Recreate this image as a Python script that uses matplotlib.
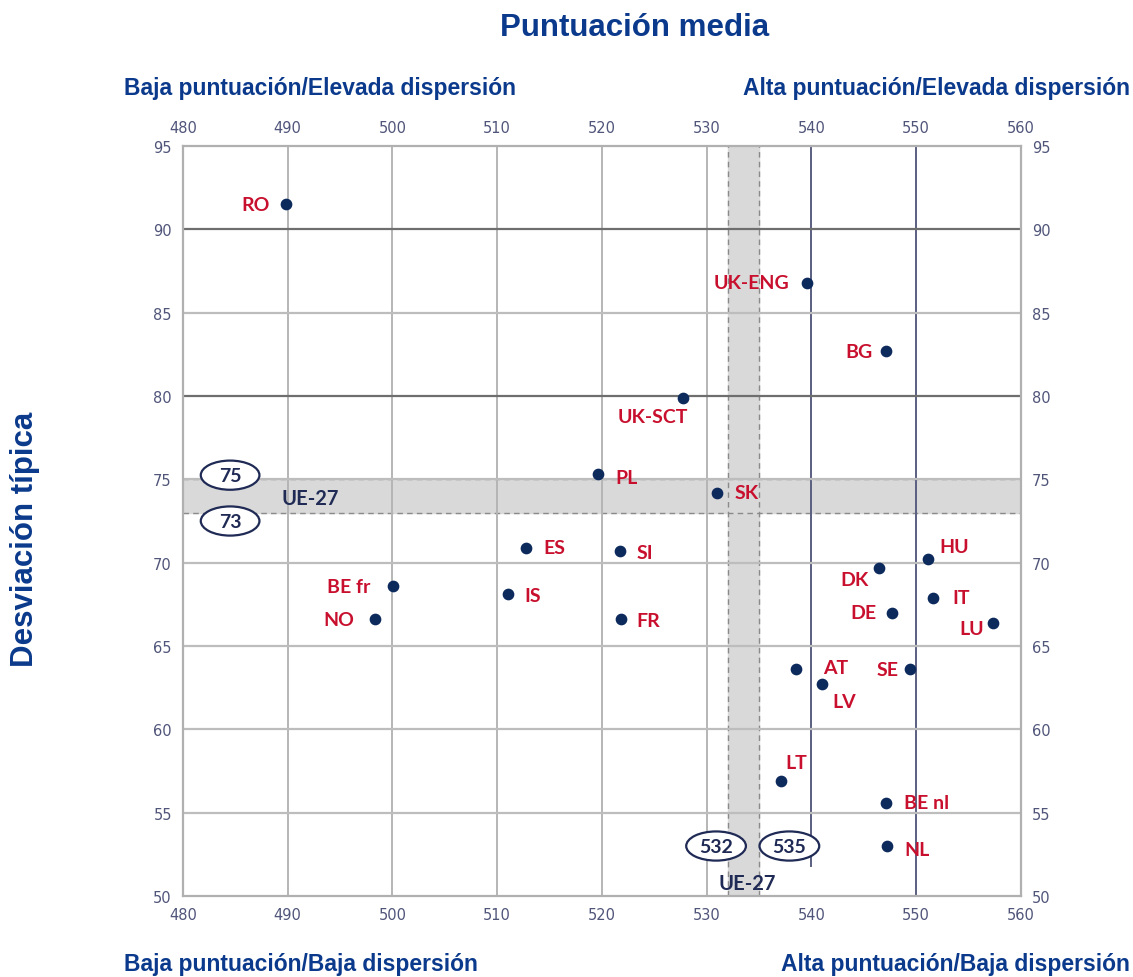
import matplotlib
matplotlib.use("Agg")
import matplotlib.pyplot as plt
from matplotlib.patches import Ellipse

# data
countries = ["RO", "UK-ENG", "BG", "UK-SCT", "PL", "SK", "ES", "SI", "BE fr", "IS",
             "NO", "FR", "HU", "DK", "IT", "DE", "LU", "AT", "SE", "LV", "LT", "BE nl", "NL"]
mean_score = [489.8, 539.6, 547.1, 527.7, 519.6, 531.0, 512.8, 521.7, 500.1, 511.0,
              498.3, 521.8, 551.1, 546.5, 551.6, 547.7, 557.3, 538.5, 549.4, 541.0, 537.1, 547.1, 547.2]
std_dev = [91.5, 86.8, 82.7, 79.9, 75.3, 74.2, 70.9, 70.7, 68.6, 68.1,
           66.6, 66.6, 70.2, 69.7, 67.9, 67.0, 66.4, 63.6, 63.6, 62.7, 56.9, 55.6, 53.0]

# EU-27 reference ranges
eu_score = (532, 535)
eu_sd = (73, 75)

x_ticks = list(range(480, 561, 10))
y_ticks = list(range(50, 96, 5))

# label offsets in pixels (dx, dy, ha)
offsets = {
    "RO": (-16, 0, "right"), "UK-ENG": (-18, 0, "right"), "BG": (-13, 0, "right"),
    "UK-SCT": (-30, -19, "center"), "PL": (18, -3, "left"), "SK": (17, 0, "left"),
    "ES": (17, 0, "left"), "SI": (17, -1, "left"), "BE fr": (-23, 0, "right"),
    "IS": (17, -1, "left"), "NO": (-20, 0, "right"), "FR": (16, -1, "left"),
    "HU": (12, 13, "left"), "DK": (-11, -12, "right"), "IT": (20, 0, "left"),
    "DE": (-16, 0, "right"), "LU": (-9, -6, "right"), "AT": (27, 2, "left"),
    "SE": (-11, 0, "right"), "LV": (11, -17, "left"), "LT": (15, 19, "center"),
    "BE nl": (18, 0, "left"), "NL": (18, -3, "left"),
}

navy = "#0b3a8c"
dot_color = "#0d2a5c"
red = "#c8102e"
tick_color = "#50557a"
mark_color = "#1f2a55"

fig = plt.figure(figsize=(11.33, 9.78), dpi=100)
ax = fig.add_axes([0.1615, 0.0828, 0.7395, 0.7669])
ax.set_xlim(480, 560)
ax.set_ylim(50, 95)

# shaded EU-27 bands
ax.axhspan(eu_sd[0], eu_sd[1], color="#d9d9d9", zorder=0)
ax.axvspan(eu_score[0], eu_score[1], color="#d9d9d9", zorder=0)
for v in eu_sd:
    ax.axhline(v, color="#8a8a8a", ls=(0, (4, 3)), lw=1.0, zorder=1)
for v in eu_score:
    ax.axvline(v, color="#8a8a8a", ls=(0, (4, 3)), lw=1.0, zorder=1)

# grid (the 540 line stops above the UE-27 label, as in the original)
for v in x_ticks[1:-1]:
    dark = v in (540, 550)
    ax.axvline(v, ymin=0.04 if v == 540 else 0, color="#5a5f80" if dark else "#b5b5b5",
               lw=1.4, zorder=1)
for v in y_ticks[1:-1]:
    dark = v in (80, 90)
    ax.axhline(v, color="#6e6e6e" if dark else "#bdbdbd", lw=1.6, zorder=1)

for s in ax.spines.values():
    s.set_color("#b0b0b0")
    s.set_linewidth(1.6)

ax.set_xticks(x_ticks)
ax.set_yticks(y_ticks)
ax.tick_params(length=0, labelsize=10.5, labelcolor=tick_color, pad=8,
               top=True, labeltop=True, right=True, labelright=True)

ax.scatter(mean_score, std_dev, s=55, color=dot_color, zorder=4)
for name, x, y in zip(countries, mean_score, std_dev):
    dx, dy, ha = offsets[name]
    ax.annotate(name, (x, y), xytext=(dx, dy), textcoords="offset pixels",
                ha=ha, va="center", color=red, fontsize=14, fontweight="bold",
                family="Lato", zorder=5)

# EU-27 range markers
for val, cx, cy in [(eu_sd[1], 484.5, 75.25), (eu_sd[0], 484.5, 72.5),
                    (eu_score[0], 530.9, 53.0), (eu_score[1], 537.9, 53.0)]:
    w = 5.7 if val > 100 else 5.6
    ax.add_patch(Ellipse((cx, cy), w, 1.75, facecolor="white", edgecolor=mark_color,
                         lw=1.6, zorder=5))
    ax.text(cx, cy, str(val), ha="center", va="center", fontsize=14, fontweight="bold",
            color=mark_color, family="Lato", zorder=6)
ax.text(492.1, 73.9, "UE-27", ha="center", va="center", fontsize=14.5, fontweight="bold",
        color=mark_color, family="Lato", zorder=5)
ax.text(533.9, 50.8, "UE-27", ha="center", va="center", fontsize=14.5, fontweight="bold",
        color=mark_color, family="Lato", zorder=5)

title_font = dict(family="Liberation Sans", fontweight="bold", color=navy)
fig.text(635 / 1133, 1 - 28 / 978, "Puntuación media", ha="center", va="center", fontsize=22.5, **title_font)
fig.text(124 / 1133, 1 - 89 / 978, "Baja puntuación/Elevada dispersión", ha="left", va="center",
         fontsize=16.5, **title_font)
fig.text(1130 / 1133, 1 - 89 / 978, "Alta puntuación/Elevada dispersión", ha="right", va="center",
         fontsize=16.5, **title_font)
fig.text(124 / 1133, 1 - 965 / 978, "Baja puntuación/Baja dispersión", ha="left", va="center",
         fontsize=16.5, **title_font)
fig.text(1130 / 1133, 1 - 965 / 978, "Alta puntuación/Baja dispersión", ha="right", va="center",
         fontsize=16.5, **title_font)
fig.text(25 / 1133, 1 - 539 / 978, "Desviación típica", ha="center", va="center", rotation=90,
         fontsize=22.5, **title_font)

fig.savefig("out.png", dpi=100)
